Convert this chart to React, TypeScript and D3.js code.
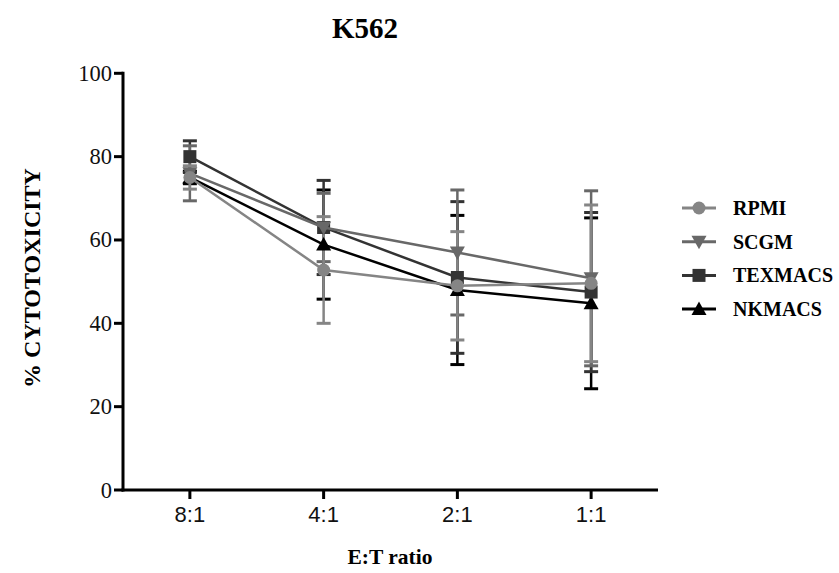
import React from "react";
import * as d3 from "d3";

const categories = ["8:1", "4:1", "2:1", "1:1"];
const seriesNames = ["RPMI", "SCGM", "TEXMACS", "NKMACS"];
const rpmiMean = [75, 52.8, 49, 49.6];
const rpmiErr = [2.8, 12.8, 13, 18.8];
const scgmMean = [76, 63, 57, 50.8];
const scgmErr = [6.6, 8.2, 15, 21];
const texmacsMean = [80, 63, 51, 47.5];
const texmacsErr = [3.8, 11.3, 18.2, 19.1];
const nkmacsMean = [75, 58.9, 48, 44.8];
const nkmacsErr = [1.5, 13.1, 17.9, 20.5];
const yTicks = [0, 20, 40, 60, 80, 100];

const colors = ["#858585", "#686868", "#333333", "#000000"];
const shapes = ["circle", "triangleDown", "square", "triangle"];

const W = 839;
const H = 573;
const serif = "'Liberation Serif', 'Times New Roman', serif";
const sans = "'Liberation Sans', Arial, sans-serif";

function Marker({ shape, x, y, color }: { shape: string; x: number; y: number; color: string }) {
  if (shape === "circle") return <circle cx={x} cy={y} r={6.5} fill={color} />;
  if (shape === "square") return <rect x={x - 6.5} y={y - 6.5} width={13} height={13} fill={color} />;
  if (shape === "triangle")
    return <path d={`M${x},${y - 7.5}L${x + 7.5},${y + 6}L${x - 7.5},${y + 6}Z`} fill={color} />;
  return <path d={`M${x},${y + 7.5}L${x + 7.5},${y - 6}L${x - 7.5},${y - 6}Z`} fill={color} />;
}

export default function App() {
  const left = 123;
  const right = 658;
  const top = 73.3;
  const bottom = 490;
  const x = d3.scalePoint<string>().domain(categories).range([left, right]).padding(0.5);
  const y = d3.scaleLinear().domain([0, 100]).range([bottom, top]);
  const means = [rpmiMean, scgmMean, texmacsMean, nkmacsMean];
  const errs = [rpmiErr, scgmErr, texmacsErr, nkmacsErr];
  const line = d3
    .line<number>()
    .x((_, i) => x(categories[i]) as number)
    .y((d) => y(d));
  const order = [3, 2, 1, 0];

  return (
    <svg width={W} height={H} style={{ position: "absolute", left: 0, top: 0, background: "#fff" }}>
      <rect width={W} height={H} fill="#fff" />
      <text x={365} y={38} textAnchor="middle" fontFamily={serif} fontWeight="bold" fontSize={29}>
        K562
      </text>
      {/* axes */}
      <line x1={left} x2={left} y1={top - 1.5} y2={bottom + 1.5} stroke="#000" strokeWidth={3} />
      <line x1={left - 1.5} x2={right} y1={bottom} y2={bottom} stroke="#000" strokeWidth={3} />
      {yTicks.map((t) => (
        <g key={t}>
          <line x1={left - 9} x2={left} y1={y(t)} y2={y(t)} stroke="#000" strokeWidth={3} />
          <text x={left - 11} y={y(t) + 7.5} textAnchor="end" fontFamily={serif} fontSize={22.5} fill="#111">
            {t}
          </text>
        </g>
      ))}
      {categories.map((c) => (
        <g key={c}>
          <line x1={x(c)} x2={x(c)} y1={bottom} y2={bottom + 9} stroke="#000" strokeWidth={3} />
          <text x={x(c)} y={522} textAnchor="middle" fontFamily={sans} fontSize={22} fill="#111">
            {c}
          </text>
        </g>
      ))}
      <text x={390} y={564} textAnchor="middle" fontFamily={serif} fontWeight="bold" fontSize={21.5}>
        E:T ratio
      </text>
      <text
        transform={`translate(40,278) rotate(-90)`}
        textAnchor="middle"
        fontFamily={serif}
        fontWeight="bold"
        fontSize={24}
      >
        % CYTOTOXICITY
      </text>
      {/* error bars */}
      {order.map((s) => (
        <g key={"e" + s}>
          {categories.map((c, i) => {
            const cx = x(c) as number;
            const hi = y(means[s][i] + errs[s][i]);
            const lo = y(means[s][i] - errs[s][i]);
            return (
              <g key={c}>
                <line x1={cx} x2={cx} y1={hi} y2={lo} stroke={colors[s]} strokeWidth={2.5} />
                <line x1={cx - 7} x2={cx + 7} y1={hi} y2={hi} stroke={colors[s]} strokeWidth={3} />
                <line x1={cx - 7} x2={cx + 7} y1={lo} y2={lo} stroke={colors[s]} strokeWidth={3} />
              </g>
            );
          })}
        </g>
      ))}
      {/* lines and markers */}
      {order.map((s) => (
        <g key={"l" + s}>
          <path d={line(means[s]) as string} fill="none" stroke={colors[s]} strokeWidth={2.5} />
          {categories.map((c, i) => (
            <Marker key={c} shape={shapes[s]} x={x(c) as number} y={y(means[s][i])} color={colors[s]} />
          ))}
        </g>
      ))}
      {/* legend */}
      {seriesNames.map((n, i) => {
        const ly = 208 + i * 33.7;
        return (
          <g key={n}>
            <line x1={682} x2={716} y1={ly} y2={ly} stroke={colors[i]} strokeWidth={3} />
            <Marker shape={shapes[i]} x={699} y={ly} color={colors[i]} />
            <text x={733} y={ly + 7} fontFamily={serif} fontWeight="bold" fontSize={20} fill="#000">
              {n}
            </text>
          </g>
        );
      })}
    </svg>
  );
}
